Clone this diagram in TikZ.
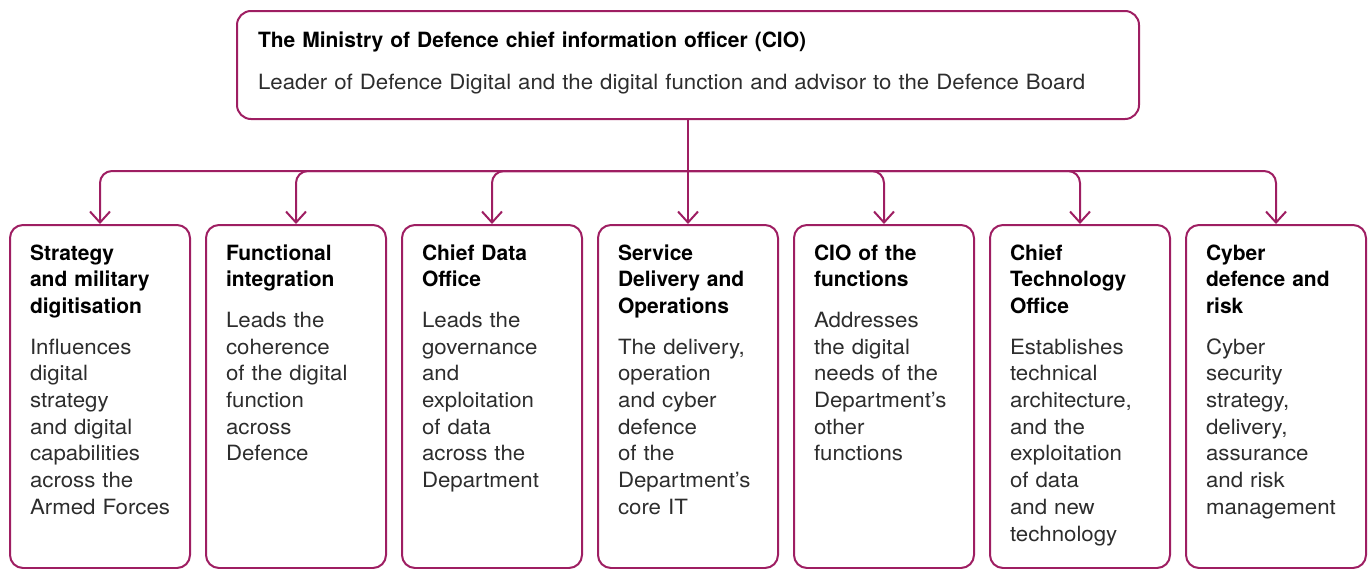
\documentclass[tikz,border=0pt]{standalone}
\usepackage{fontspec}
\setmainfont[FakeStretch=1.06,BoldFeatures={FakeStretch=1.0}]{TeX Gyre Heros}
\usetikzlibrary{arrows.meta}

\definecolor{plum}{RGB}{158,30,98}
\definecolor{bodygrey}{RGB}{45,45,45}

\begin{document}
\begin{tikzpicture}[
    x=1pt, y=1pt,
    line width=2pt,
    link/.style     = {draw=plum, -{Straight Barb[length=11pt,width=20pt]}},
    headbox/.style  = {draw=plum, rounded corners=14pt, minimum width=902pt, minimum height=108pt, anchor=north, inner sep=0pt},
    unitbox/.style  = {draw=plum, rounded corners=13pt, minimum width=180pt, minimum height=343pt, anchor=north, inner sep=0pt},
    unittext/.style = {anchor=base west, align=left, inner sep=0pt, text=bodygrey, font=\fontsize{21}{26.7}\selectfont},
  ]
  \useasboundingbox (0,0) rectangle (1372,-568);

  % CIO an der Spitze
  \node[headbox] (cio) at (688,-10) {};
  \node[unittext, text width=880pt] (ciotext) at ([shift={(21,-37)}]cio.north west)
    {{\bfseries\color{black}The Ministry of Defence chief information officer (CIO)}\\[16pt]
     Leader of Defence Digital and the digital function and advisor to the Defence Board};

  % die sieben Bereiche
  \node[unitbox] (b1) at (100,-224) {};
  \node[unitbox] (b2) at (296,-224) {};
  \node[unitbox] (b3) at (492,-224) {};
  \node[unitbox] (b4) at (688,-224) {};
  \node[unitbox] (b5) at (884,-224) {};
  \node[unitbox] (b6) at (1080,-224) {};
  \node[unitbox] (b7) at (1276,-224) {};

  \node[unittext, text width=158pt] (t1) at ([shift={(20,-36)}]b1.north west)
    {{\bfseries\color{black}Strategy\\and military\\digitisation}\\[14pt]
     Influences\\digital\\strategy\\and digital\\capabilities\\across the\\Armed Forces};
  \node[unittext, text width=158pt] (t2) at ([shift={(20,-36)}]b2.north west)
    {{\bfseries\color{black}Functional\\integration}\\[14pt]
     Leads the\\coherence\\of the digital\\function\\across\\Defence};
  \node[unittext, text width=158pt] (t3) at ([shift={(20,-36)}]b3.north west)
    {{\bfseries\color{black}Chief Data\\Office}\\[14pt]
     Leads the\\governance\\and\\exploitation\\of data\\across the\\Department};
  \node[unittext, text width=158pt] (t4) at ([shift={(20,-36)}]b4.north west)
    {{\bfseries\color{black}Service\\Delivery and\\Operations}\\[14pt]
     The delivery,\\operation\\and cyber\\defence\\of the\\Department’s\\core IT};
  \node[unittext, text width=158pt] (t5) at ([shift={(20,-36)}]b5.north west)
    {{\bfseries\color{black}CIO of the\\functions}\\[14pt]
     Addresses\\the digital\\needs of the\\Department’s\\other\\functions};
  \node[unittext, text width=158pt] (t6) at ([shift={(20,-36)}]b6.north west)
    {{\bfseries\color{black}Chief\\Technology\\Office}\\[14pt]
     Establishes\\technical\\architecture,\\and the\\exploitation\\of data\\and new\\technology};
  \node[unittext, text width=158pt] (t7) at ([shift={(20,-36)}]b7.north west)
    {{\bfseries\color{black}Cyber\\defence and\\risk}\\[14pt]
     Cyber\\security\\strategy,\\delivery,\\assurance\\and risk\\management};

  % Verteiler
  \coordinate (bus) at (688,-171);
  \draw[link] (cio.south) -- (b4.north);
  \draw[link, rounded corners=12pt] (bus) -| (b1.north);
  \draw[link, rounded corners=12pt] (bus) -| (b2.north);
  \draw[link, rounded corners=12pt] (bus) -| (b3.north);
  \draw[link, rounded corners=12pt] (bus) -| (b5.north);
  \draw[link, rounded corners=12pt] (bus) -| (b6.north);
  \draw[link, rounded corners=12pt] (bus) -| (b7.north);

\end{tikzpicture}
\end{document}
